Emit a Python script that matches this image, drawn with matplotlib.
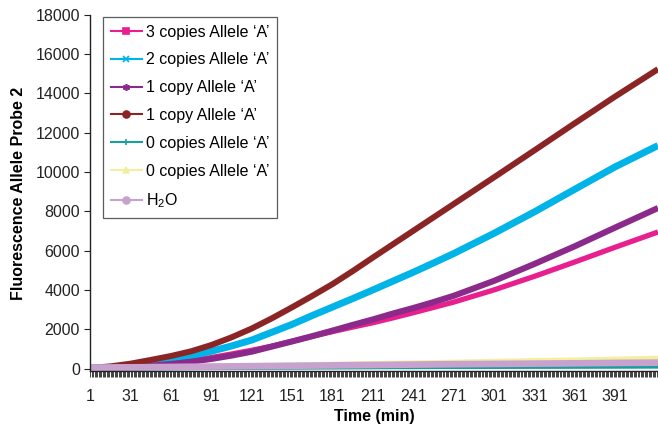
import matplotlib
matplotlib.use("Agg")
import matplotlib.pyplot as plt
from matplotlib.lines import Line2D
from matplotlib.ticker import MultipleLocator, FuncFormatter

plt.rcParams['font.family'] = ['Liberation Sans', 'DejaVu Sans']
plt.rcParams['mathtext.fontset'] = 'custom'
plt.rcParams['mathtext.rm'] = 'Liberation Sans'
plt.rcParams['mathtext.default'] = 'regular'

# sample times (min)
time = [1, 16, 31, 46, 61, 76, 91, 106, 121, 136, 151, 166, 181, 196, 211, 226,
        241, 256, 271, 301, 331, 361, 391, 423]

copies3 = [10, 50, 110, 190, 290, 410, 560, 740, 930, 1140, 1390, 1640, 1880, 2110,
           2330, 2580, 2840, 3110, 3380, 4000, 4690, 5420, 6170, 6950]
copies2 = [20, 60, 130, 260, 430, 640, 880, 1150, 1450, 1850, 2250, 2700, 3130, 3560,
           4000, 4450, 4900, 5370, 5850, 6880, 7970, 9120, 10260, 11350]
copy1a = [10, 30, 70, 140, 230, 350, 490, 660, 860, 1120, 1380, 1650, 1930, 2220,
          2500, 2800, 3080, 3380, 3700, 4460, 5320, 6220, 7170, 8170]
copy1b = [30, 110, 250, 440, 640, 880, 1200, 1590, 2040, 2560, 3120, 3700, 4300, 4960,
          5650, 6330, 7010, 7690, 8370, 9730, 11100, 12480, 13840, 15240]
copies0a = [0, 0, 5, 10, 15, 20, 25, 30, 35, 40, 45, 50, 55, 60, 65, 70, 72, 75, 78,
            82, 86, 90, 95, 100]
copies0b = [0, 15, 30, 50, 80, 100, 120, 140, 150, 170, 190, 210, 230, 250, 270, 285,
            300, 320, 340, 380, 420, 450, 490, 540]
water = [50, 55, 60, 70, 80, 90, 100, 110, 120, 130, 140, 150, 160, 170, 180, 190,
         200, 210, 220, 235, 250, 265, 285, 300]

labels = ["3 copies Allele \u2018A\u2019", "2 copies Allele \u2018A\u2019",
          "1 copy Allele \u2018A\u2019", "1 copy Allele \u2018A\u2019",
          "0 copies Allele \u2018A\u2019", "0 copies Allele \u2018A\u2019",
          "H$_2$O"]
series = [copies3, copies2, copy1a, copy1b, copies0a, copies0b, water]
colors = ['#E8208F', '#00B4E8', '#8B2A8B', '#8B2525', '#1A9E9E', '#F3EFA0', '#C8A2CE']
markers = ['s', 'x', (6, 2, 0), 'o', '+', '^', 'o']
widths = [3.8, 5.0, 4.4, 4.3, 3.0, 3.2, 4.8]

fig = plt.figure(figsize=(6.58, 4.26), dpi=100)
ax = fig.add_axes([0.1375, 0.128, 0.8625, 0.837])

for vals, c, w in zip(series, colors, widths):
    ax.plot(time, vals, color=c, lw=w, solid_capstyle='butt', solid_joinstyle='round')

ax.set_xlim(1, 423)
ax.set_ylim(-150, 18000)
ax.set_yticks(range(0, 18001, 2000))
ax.xaxis.set_major_locator(MultipleLocator(1))
ax.xaxis.set_major_formatter(FuncFormatter(
    lambda v, p: str(int(round(v))) if (int(round(v)) - 1) % 30 == 0 and v <= 400 else ''))
ax.tick_params(axis='x', direction='out', length=4.5, width=0.6, labelsize=11.5, pad=8,
               colors='#222222')
ax.tick_params(axis='y', direction='out', length=4, width=0.8, labelsize=11.5,
               colors='#222222')
for s in ['top', 'right']:
    ax.spines[s].set_visible(False)
for s in ['left', 'bottom']:
    ax.spines[s].set_linewidth(1.0)
    ax.spines[s].set_color('#222222')

ax.set_xlabel('Time (min)', fontsize=11.5, fontweight='bold', labelpad=4)
ax.set_ylabel('Fluorescence Allele Probe 2', fontsize=11.5, fontweight='bold', labelpad=7)

handles = [Line2D([0], [0], color=c, lw=1.5, marker=m, markersize=5,
                  markeredgewidth=1.2) for c, m in zip(colors, markers)]
leg = ax.legend(handles, labels, loc='upper left', bbox_to_anchor=(0.0225, 0.995),
                fontsize=11.5, frameon=True, fancybox=False, handlelength=1.9,
                handletextpad=0.25, labelspacing=0.8, borderpad=0.5, borderaxespad=0)
leg.get_frame().set_edgecolor('#333333')
leg.get_frame().set_linewidth(0.9)

fig.savefig('out.png', dpi=100)
